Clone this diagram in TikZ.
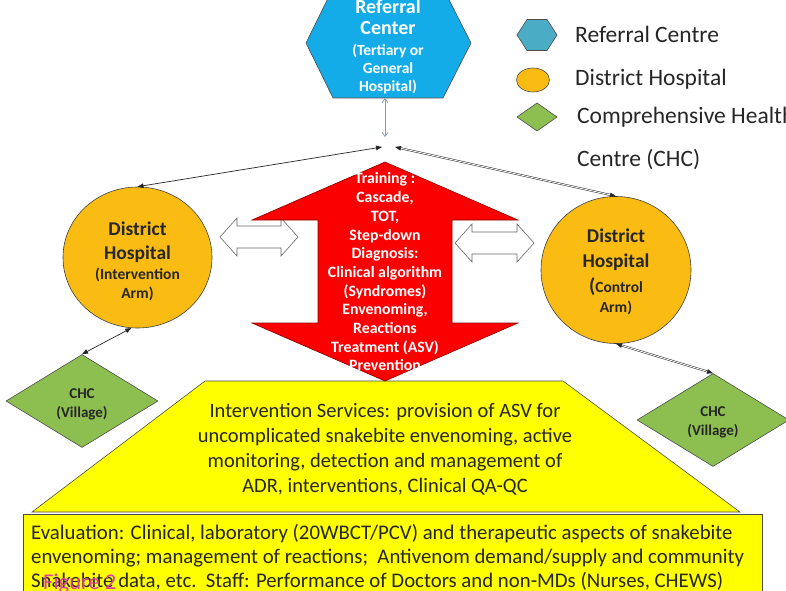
\documentclass[tikz,border=0pt]{standalone}
\usepackage{fontspec}
\setmainfont{Carlito}
\usetikzlibrary{arrows.meta,shapes.geometric}
\definecolor{hexblue}{RGB}{20,172,232}
\definecolor{leghex}{RGB}{75,172,198}
\definecolor{dhorange}{RGB}{250,188,18}
\definecolor{chcgreen}{RGB}{140,190,80}
\definecolor{ivyellow}{RGB}{255,255,0}
\definecolor{arrowred}{RGB}{250,0,0}
\definecolor{txtdark}{RGB}{38,38,38}
\definecolor{figmag}{RGB}{225,60,165}
\definecolor{refarrow}{RGB}{120,160,200}
\newcommand{\fsz}[2]{\fontsize{#1}{#2}\selectfont}
\newcommand{\whitearrow}[3]{%
  \draw[blockarrow] (#1,#3) -- (#1+17,#3+19) -- (#1+17,#3+11) -- (#2-17,#3+11) -- (#2-17,#3+19)
   -- (#2,#3) -- (#2-17,#3-19) -- (#2-17,#3-11) -- (#1+17,#3-11) -- (#1+17,#3-19) -- cycle;}
\begin{document}
\begin{tikzpicture}[x=1pt,y=1pt,
  conn/.style={draw=black!85, line width=0.7pt, {Triangle[length=6pt,width=4.5pt]}-{Triangle[length=6pt,width=4.5pt]}},
  conndbl/.style={conn, double=white, double distance=0.9pt, line width=0.5pt},
  dh/.style={ellipse, draw=black!75, line width=0.6pt, fill=dhorange, inner sep=0pt},
  dhtext/.style={align=center, text=txtdark, font=\bfseries\fsz{15.5}{19}},
  chc/.style={diamond, draw=black!70, line width=0.6pt, fill=chcgreen, minimum width=152pt, minimum height=93pt, inner sep=0pt},
  chctext/.style={align=center, text=txtdark, font=\bfseries\fsz{15}{19}},
  blockarrow/.style={draw=black!60, fill=white, line width=0.6pt},
  legtext/.style={anchor=west, text=txtdark, font=\fsz{23.5}{26}, inner sep=0pt}
]
\useasboundingbox (0,0) rectangle (786,590);
\clip (0,0) rectangle (786,590);
\fill[white] (0,0) rectangle (786,590);

% referral hexagon
\draw[fill=hexblue, draw=black!70, line width=0.6pt] (306,547) -- (333,492) -- (443,492) -- (471,547) -- (443,602) -- (333,602) -- cycle;
\node[align=center, text=white, font=\bfseries\fsz{15.5}{18}] (ref) at (388,543)
  {{\fsz{20}{20}Referral}\\[3pt]{\fsz{20}{20}Center}\\[3pt](Tertiary or\\General\\Hospital)};
\coordinate (refS) at (385,492);
\coordinate (refEnd) at (385,453);
\draw[draw=refarrow, line width=0.7pt, {Straight Barb[length=4pt,width=6pt]}-{Straight Barb[length=4pt,width=6pt]}] (refS) -- (refEnd);

% legend
\draw[fill=leghex, draw=black!70, line width=0.6pt] (517,555) -- (527,570.5) -- (547,570.5) -- (557,555) -- (547,539.5) -- (527,539.5) -- cycle;
\draw[fill=dhorange, draw=black!70, line width=0.6pt] (533,510) ellipse [x radius=16.5, y radius=12];
\draw[fill=chcgreen, draw=black!70, line width=0.6pt] (517,473) -- (537,487) -- (557,473) -- (537,459) -- cycle;
\node[legtext] (l1) at (575,556) {Referral Centre};
\node[legtext] (l2) at (575,511) {District Hospital};
\node[legtext] (l3) at (577,473) {Comprehensive Health};
\node[legtext] (l4) at (577,430) {Centre (CHC)};

% district hospitals
\node[dh, minimum width=149pt, minimum height=141pt] (dhL) at (137.5,332.5) {};
\node[dhtext] (dhLt) at (137.5,329)
  {{\fsz{19.5}{19.5}District}\\[5pt]{\fsz{19.5}{19.5}Hospital}\\[1pt](Intervention\\Arm)};
\node[dh, minimum width=150pt, minimum height=147pt] (dhR) at (616,320) {};
\node[dhtext] (dhRt) at (616,318)
  {{\fsz{19.5}{19.5}District}\\[6pt]{\fsz{19.5}{19.5}Hospital}\\[6pt]{\fsz{20}{20}(}Control\\[1pt]Arm)};

% CHCs
\node[chc] (chcL) at (82,189) {};
\node[chctext] (chcLt) at (82,186) {CHC\\(Village)};
\node[chc] (chcR) at (713,170) {};
\node[chctext] (chcRt) at (713,168) {CHC\\(Village)};

% hub connectors
\coordinate (hubL) at (382,443);
\coordinate (hubR) at (395,443);
\draw[conn] (dhL.north) -- (hubL);
\draw[conndbl] (dhR.north) -- (hubR);
\draw[conn] (chcL.north) -- (dhL.265);
\draw[conndbl] (dhR.south) -- (chcR.north);

% white double arrows
\whitearrow{220}{298}{353}
\whitearrow{455}{534}{347}

% yellow trapezoid and evaluation box
\draw[fill=ivyellow, draw=black!70, line width=0.6pt] (205,209) -- (563,209) -- (740,78) -- (32,78) -- cycle;
\node[align=center, text=txtdark, font=\fsz{20.5}{25}] (ivs) at (385,141)
  {Intervention Services: provision of ASV for\\uncomplicated snakebite envenoming, active\\monitoring, detection and management of\\ADR, interventions, Clinical QA-QC};
\draw[fill=ivyellow, draw=black!70, line width=0.6pt] (23,-5) rectangle (762,76);
\node[anchor=west, align=left, text=txtdark, font=\fsz{20.8}{24}, inner sep=0pt] (eval) at (31,33)
  {Evaluation: Clinical, laboratory (20WBCT/PCV) and therapeutic aspects of snakebite\\envenoming; management of reactions;\ \ Antivenom demand/supply and community\\Snakebite data, etc.\ \ Staff: Performance of Doctors and non-MDs (Nurses, CHEWS)};
\node[anchor=base west, text=figmag, font=\fsz{22.5}{24}, inner sep=0pt] (fig) at (43,1) {Figure 2};

% red double block arrow
\draw[fill=arrowred, draw=red!55!black, line width=0.6pt] (385,428) -- (518,370) -- (452,370) -- (452,267) -- (518,267) -- (385,209)
  -- (252,267) -- (318,267) -- (318,370) -- (252,370) -- cycle;
\node[align=center, text=white, font=\bfseries\fsz{15.8}{18.7}] (train) at (385,318)
  {Training :\\Cascade,\\TOT,\\Step-down\\Diagnosis:\\Clinical algorithm\\(Syndromes)\\Envenoming,\\Reactions\\Treatment (ASV)\\Prevention};
\end{tikzpicture}
\end{document}
